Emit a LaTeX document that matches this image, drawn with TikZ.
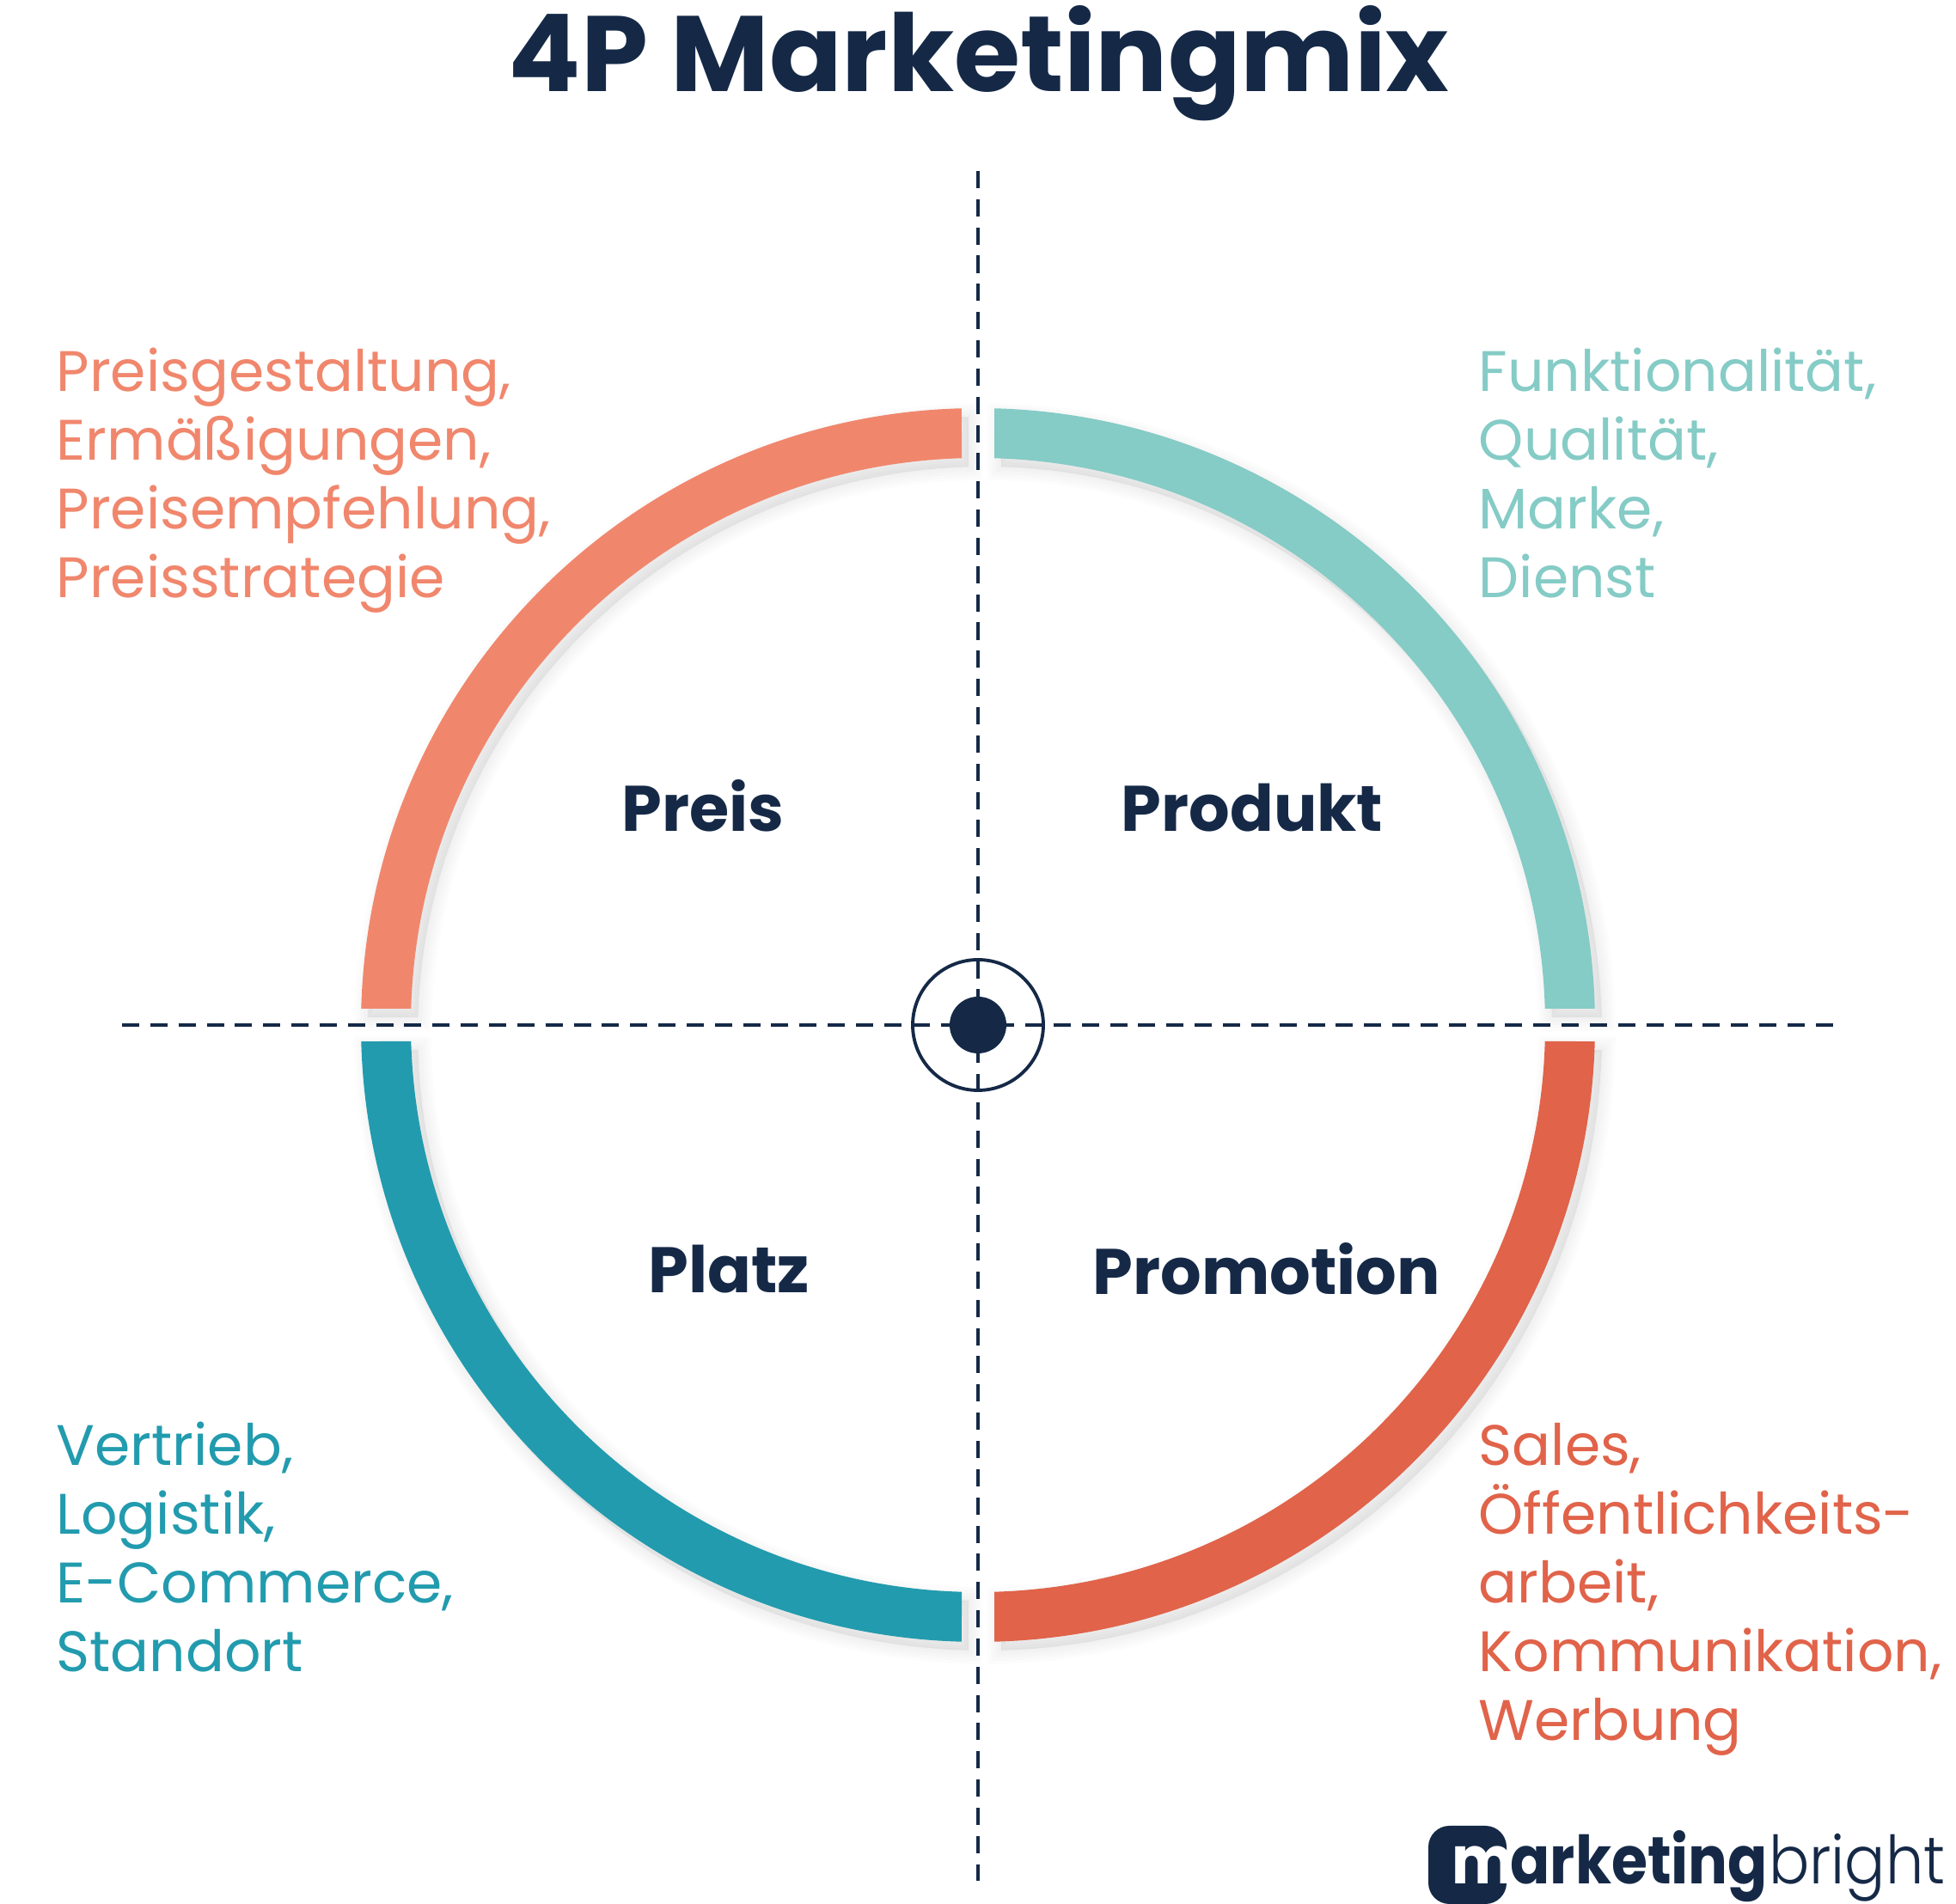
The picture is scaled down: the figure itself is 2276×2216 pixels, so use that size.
\documentclass[tikz,border=0pt]{standalone}
\usepackage{fontspec}
\setmainfont{Poppins}
\newfontfamily\brightfont{Poppins Light}
\usetikzlibrary{calc}

\definecolor{navy}{HTML}{152947}
\definecolor{salmon}{HTML}{F0876D}
\definecolor{mint}{HTML}{85CBC6}
\definecolor{petrol}{HTML}{229BAE}
\definecolor{tomato}{HTML}{E0634A}

\newcommand{\ringpath}{(1.52:718) arc[start angle=1.52,end angle=88.48,radius=718] -- (88.35:660) arc[start angle=88.35,end angle=1.65,radius=660] -- cycle}

\tikzset{
	title/.style={font=\fontsize{35.5}{35.5}\selectfont\bfseries,text=navy},
	pname/.style={font=\fontsize{21.3}{21.3}\selectfont\bfseries,text=navy},
	plist/.style={font=\fontsize{18.9}{22.75}\selectfont,align=left,anchor=north west,inner sep=0pt},
	axis/.style={navy,line width=1.4pt,dash pattern=on 5.69pt off 3.65pt},
	logotext/.style={anchor=base west,inner sep=0pt,xscale=0.88},
}

\begin{document}
\begin{tikzpicture}[x=0.01cm,y=0.01cm]
	\useasboundingbox (0,0) rectangle (2276,2216);
	\coordinate (O) at (1138,1023);
	\coordinate (N) at (1138,2017);
	\coordinate (S) at (1138,27);
	\coordinate (W) at (142,1023);
	\coordinate (E) at (2134,1023);

	% the four quarters of the ring
	\foreach \a/\c in {0/mint,90/salmon,180/petrol,270/tomato}{
		\begin{scope}[shift={($(O)+(8,-10)$)},rotate=\a]
			\foreach \w in {1,3,5,7,9}
				\filldraw[black,line width=\w pt,opacity=0.012] \ringpath;
		\end{scope}
		\begin{scope}[shift={(O)},rotate=\a]
			\fill[\c] \ringpath;
		\end{scope}
	}

	\draw[axis] (N)--(S);
	\draw[axis] (W)--(E);
	\draw[navy,line width=1.1pt] (O) circle (76);
	\fill[navy] (O) circle (33);

	\node[title] (head) at (1139,2142) {4P Marketingmix};

	\node[pname] (preis) at (818,1278) {Preis};
	\node[pname] (produkt) at (1457,1276) {Produkt};
	\node[pname] (platz) at (848,739) {Platz};
	\node[pname] (promotion) at (1474,739) {Promotion};

	\node[plist,text=salmon] (preislist) at (65,1812) {Preisgestaltung,\\Ermäßigungen,\\Preisempfehlung,\\Preisstrategie};
	\node[plist,text=mint] (produktlist) at (1720,1812) {Funktionalität,\\Qualität,\\Marke,\\Dienst};
	\node[plist,text=petrol] (platzlist) at (65,562) {Vertrieb,\\Logistik,\\E-Commerce,\\Standort};
	\node[plist,text=tomato] (promotionlist) at (1720,560) {Sales,\\Öffentlichkeits-\\arbeit,\\Kommunikation,\\Werbung};

	% logo
	\fill[navy,rounded corners=7pt] (1662,0) rectangle (1753,91);
	\node[logotext,text=white,font=\fontsize{22}{22}\selectfont\bfseries] (logom) at (1689,23) {m};
	\node[logotext,text=navy,font=\fontsize{22}{22}\selectfont\bfseries] (logoa) at (1757,23) {arketing};
	\node[logotext,xscale=1.03,text=navy,font=\fontsize{22}{22}\brightfont] (logob) at (logoa.base east) {bright};
\end{tikzpicture}
\end{document}
